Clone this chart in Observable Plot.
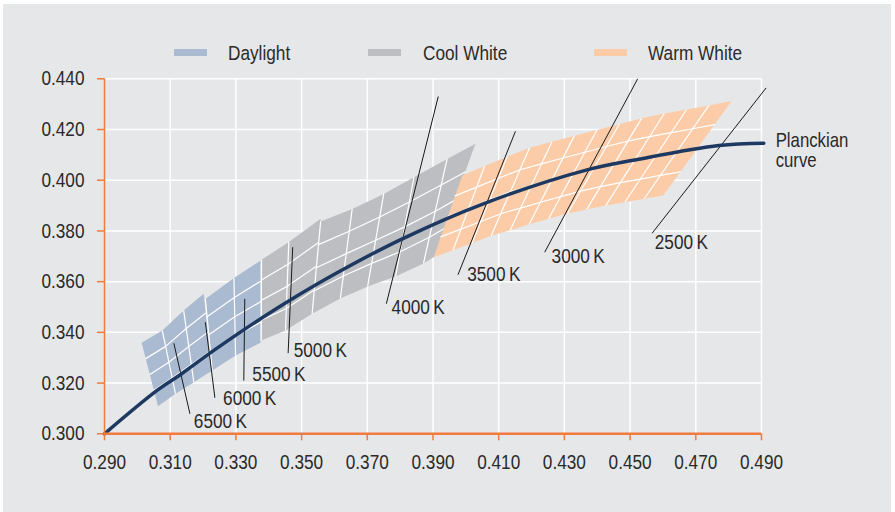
<!DOCTYPE html>
<html>
<head>
<meta charset="utf-8">
<script src="https://cdn.jsdelivr.net/npm/d3@7"></script>
<script src="https://cdn.jsdelivr.net/npm/@observablehq/plot@0.6"></script>
<style>
  html, body { margin: 0; padding: 0; background: #ffffff; }
  body { width: 895px; height: 512px; position: relative; overflow: hidden;
         font-family: "Liberation Sans", Arial, sans-serif; color: #2a2a2a; }
  #frame { position: absolute; left: 3px; top: 4px; width: 888px; height: 508px; background: #e6e7e9; }
  .sw { position: absolute; width: 33px; height: 7px; top: 45px; }
  .lt { position: absolute; top: 49px; transform: translateY(-50%) scaleX(0.84); transform-origin: left center;
        font-size: 20.5px; line-height: 1; white-space: nowrap; }
  #chart { position: absolute; left: 0; top: 60px; }
</style>
</head>
<body>
<div id="frame">
  <div id="legend"></div>
  <div id="chart"></div>
</div>
<script>
// ---- data ----
const legendNames = ["Daylight", "Cool White", "Warm White"];
const legendColors = ["#aabad1", "#bdbec1", "#fccca9"];

const xTicks = [0.29, 0.31, 0.33, 0.35, 0.37, 0.39, 0.41, 0.43, 0.45, 0.47, 0.49];
const yTicks = [0.30, 0.32, 0.34, 0.36, 0.38, 0.40, 0.42, 0.44];

// Planckian locus (x, y)
const planckX = [0.2900, 0.3060, 0.3135, 0.3221, 0.3324, 0.3451, 0.3608, 0.3805, 0.4053, 0.4369, 0.4526, 0.4770, 0.4907];
const planckY = [0.3000, 0.3171, 0.3237, 0.3318, 0.3410, 0.3516, 0.3635, 0.3768, 0.3907, 0.4041, 0.4083, 0.4137, 0.4146];

// Quadrangle patches: column boundary end points [x, y]
const daylightATop    = [[0.3013,0.3359],[0.3076,0.3407],[0.3141,0.3486],[0.3202,0.3552]];
const daylightABottom = [[0.3063,0.3109],[0.3116,0.3158],[0.3172,0.3203],[0.3228,0.3250]];
const daylightBTop    = [[0.3207,0.3532],[0.3294,0.3614],[0.3375,0.3683]];
const daylightBBottom = [[0.3228,0.3250],[0.3299,0.3309],[0.3375,0.3359]];
const coolCTop        = [[0.3378,0.3686],[0.3461,0.3756],[0.3558,0.3848]];
const coolCBottom     = [[0.3377,0.3368],[0.3451,0.3407],[0.3532,0.3473]];
const coolDTop        = [[0.3558,0.3837],[0.3654,0.3887],[0.3750,0.3946],[0.3842,0.4012],[0.3943,0.4084],[0.4029,0.4144]];
const coolDBottom     = [[0.3532,0.3473],[0.3618,0.3534],[0.3701,0.3581],[0.3786,0.3620],[0.3871,0.3672],[0.3905,0.3699]];
const warmTop    = [[0.3989,0.4019],[0.4057,0.4056],[0.4126,0.4093],[0.4194,0.4128],[0.4262,0.4152],[0.4330,0.4175],[0.4399,0.4198],[0.4467,0.4221],[0.4535,0.4244],[0.4604,0.4263],[0.4672,0.4279],[0.4740,0.4295],[0.4809,0.4312]];
const warmBottom = [[0.3902,0.3696],[0.3961,0.3724],[0.4019,0.3752],[0.4077,0.3781],[0.4135,0.3803],[0.4193,0.3826],[0.4252,0.3848],[0.4310,0.3869],[0.4368,0.3885],[0.4426,0.3900],[0.4484,0.3913],[0.4543,0.3927],[0.4601,0.3940]];

// Colour temperature annotations
const cctLabels = ["6500\u2009K", "6000\u2009K", "5500\u2009K", "5000\u2009K", "4000\u2009K", "3500\u2009K", "3000\u2009K", "2500\u2009K"];
const cctLineStart = [[0.3111,0.3357],[0.3207,0.3440],[0.3327,0.3532],[0.3473,0.3736],[0.3916,0.4330],[0.4151,0.4193],[0.4523,0.4400],[0.4914,0.4364]];
const cctLineEnd   = [[0.3160,0.3079],[0.3236,0.3142],[0.3324,0.3210],[0.3459,0.3318],[0.3758,0.3513],[0.3976,0.3627],[0.4240,0.3716],[0.4567,0.3791]];
const cctLabelPos  = [[0.3172,0.3049],[0.3261,0.3141],[0.3350,0.3234],[0.3476,0.3328],[0.3774,0.3499],[0.4004,0.3628],[0.4261,0.3699],[0.4575,0.3756]];
const curveLabel = "Planckian\ncurve";
const curveLabelPos = [0.4943, 0.4117];

// ---- legend ----
const legendSwatchLeft = [171, 365, 591];
const legendTextLeft = [225, 420, 645];
const legend = document.getElementById("legend");
legendNames.forEach((n, i) => {
  const s = document.createElement("div");
  s.className = "sw"; s.style.left = legendSwatchLeft[i] + "px"; s.style.background = legendColors[i];
  legend.appendChild(s);
  const t = document.createElement("div");
  t.className = "lt"; t.style.left = legendTextLeft[i] + "px"; t.textContent = n;
  legend.appendChild(t);
});

// ---- geometry helpers ----
const ROWS = 4;
const lerp = (a, b, f) => [a[0] + (b[0] - a[0]) * f, a[1] + (b[1] - a[1]) * f];
const patches = [
  {top: daylightATop, bottom: daylightABottom, fill: legendColors[0], leftEdge: false},
  {top: daylightBTop, bottom: daylightBBottom, fill: legendColors[0], leftEdge: true},
  {top: coolCTop, bottom: coolCBottom, fill: legendColors[1], leftEdge: true},
  {top: coolDTop, bottom: coolDBottom, fill: legendColors[1], leftEdge: true},
  {top: warmTop, bottom: warmBottom, fill: legendColors[2], leftEdge: false}
];

const patchMarks = [];
patches.forEach((p) => {
  const poly = [...p.top, ...p.bottom.slice().reverse()].map(d => ({x: d[0], y: d[1]}));
  patchMarks.push(Plot.line(poly, {x: "x", y: "y", curve: "linear-closed", fill: p.fill, stroke: "none"}));
  const rows = [];
  for (let r = 1; r < ROWS; r++) {
    p.top.forEach((t, j) => {
      const q = lerp(t, p.bottom[j], r / ROWS);
      rows.push({x: q[0], y: q[1], z: r});
    });
  }
  patchMarks.push(Plot.line(rows, {x: "x", y: "y", z: "z", stroke: "white", strokeWidth: 1.2}));
  const cols = p.top.map((t, j) => ({x1: t[0], y1: t[1], x2: p.bottom[j][0], y2: p.bottom[j][1], j}))
    .filter(c => (c.j > 0 || p.leftEdge) && c.j < p.top.length - 1);
  patchMarks.push(Plot.link(cols, {x1: "x1", y1: "y1", x2: "x2", y2: "y2", stroke: "white", strokeWidth: 1.2}));
});

const planck = planckX.map((x, i) => ({x, y: planckY[i]}));
const cctLines = cctLabels.map((l, i) => ({x1: cctLineStart[i][0], y1: cctLineStart[i][1], x2: cctLineEnd[i][0], y2: cctLineEnd[i][1]}));
const cctText = cctLabels.map((l, i) => ({x: cctLabelPos[i][0], y: cctLabelPos[i][1], label: l}));

const axisColor = "#f07b3d";
const textColor = "#2a2a2a";
const fmt = d3.format(".3f");

const chart = Plot.plot({
  width: 888,
  height: 448,
  marginLeft: 101,
  marginRight: 130,
  marginTop: 14.3,
  marginBottom: 78.7,
  style: {background: "transparent", fontFamily: '"Liberation Sans", Arial, sans-serif', fontSize: "20.5px", color: textColor},
  x: {domain: [0.29, 0.49]},
  y: {domain: [0.30, 0.44]},
  marks: [
    Plot.ruleX(xTicks.slice(1), {y1: 0.30, y2: 0.44, stroke: "white", strokeWidth: 1.5}),
    Plot.ruleY(yTicks.slice(1), {x1: 0.29, x2: 0.49, stroke: "white", strokeWidth: 1.5}),
    ...patchMarks,
    Plot.link(cctLines, {x1: "x1", y1: "y1", x2: "x2", y2: "y2", stroke: "#1a1a1a", strokeWidth: 1}),
    Plot.line(planck, {x: "x", y: "y", curve: "catmull-rom", stroke: "#1d3961", strokeWidth: 3.5}),
    Plot.text(cctText, {x: "x", y: "y", text: "label", textAnchor: "start", fill: textColor, fontSize: 20.5}),
    Plot.text([curveLabelPos], {x: d => d[0], y: d => d[1], text: () => curveLabel, textAnchor: "start", lineHeight: 1.0, fill: textColor, fontSize: 20}),
    Plot.axisX({ticks: xTicks, tickFormat: fmt, tickSize: 7, tickPadding: 14, stroke: axisColor, fill: textColor, strokeWidth: 1.5, label: null}),
    Plot.axisY({ticks: yTicks, tickFormat: fmt, tickSize: 7, tickPadding: 13, stroke: axisColor, fill: textColor, strokeWidth: 1.5, label: null}),
    Plot.ruleX([0.29], {y1: 0.30, y2: 0.44, stroke: axisColor, strokeWidth: 1.5}),
    Plot.ruleY([0.30], {x1: 0.29, x2: 0.49, stroke: axisColor, strokeWidth: 2.5})
  ]
});

// condense every text horizontally about its own anchor (narrow grotesque look)
const SX = 0.84;
chart.querySelectorAll("text").forEach(t => {
  const tr = t.getAttribute("transform") || "";
  t.setAttribute("transform", `${tr} scale(${SX},1)`.trim());
  const xa = t.getAttribute("x");
  if (xa !== null && isFinite(+xa) && +xa !== 0) t.setAttribute("x", +xa / SX);
});
document.getElementById("chart").appendChild(chart);
</script>
</body>
</html>
